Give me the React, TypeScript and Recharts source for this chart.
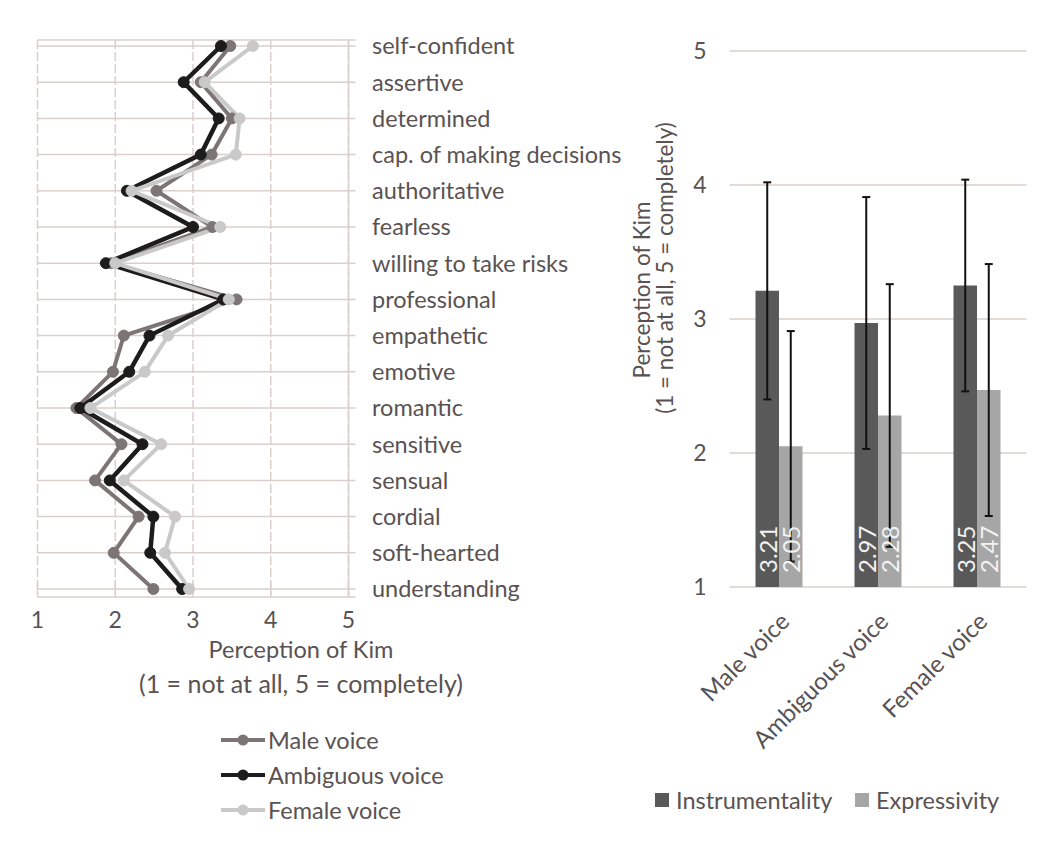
import React from "react";
import {
  Bar,
  BarChart,
  CartesianGrid,
  ErrorBar,
  LabelList,
  Legend,
  Line,
  LineChart,
  XAxis,
  YAxis,
} from "recharts";

// left panel: mean rating per trait, one line per voice condition
const traits = [
  "self-confident",
  "assertive",
  "determined",
  "cap. of making decisions",
  "authoritative",
  "fearless",
  "willing to take risks",
  "professional",
  "empathetic",
  "emotive",
  "romantic",
  "sensitive",
  "sensual",
  "cordial",
  "soft-hearted",
  "understanding",
];
const maleVoice = [3.48, 3.1, 3.5, 3.24, 2.53, 3.25, 1.95, 3.56, 2.11, 1.97, 1.5, 2.08, 1.74, 2.3, 1.98, 2.49];
const ambiguousVoice = [3.36, 2.88, 3.33, 3.1, 2.15, 3.0, 1.88, 3.39, 2.44, 2.18, 1.55, 2.35, 1.93, 2.49, 2.45, 2.86];
const femaleVoice = [3.77, 3.15, 3.6, 3.55, 2.21, 3.35, 2.0, 3.46, 2.68, 2.38, 1.68, 2.59, 2.11, 2.77, 2.64, 2.95];
const scaleTicks = [1, 2, 3, 4, 5];
const voiceNames = ["Male voice", "Ambiguous voice", "Female voice"];

// right panel: scale means with SD error bars
const voiceGroups = ["Male voice", "Ambiguous voice", "Female voice"];
const scaleNames = ["Instrumentality", "Expressivity"];
const instrumentality = [3.21, 2.97, 3.25];
const instrumentalitySd = [0.81, 0.94, 0.79];
const expressivity = [2.05, 2.28, 2.47];
const expressivitySd = [0.86, 0.98, 0.94];

const FONT = "Lato, 'Open Sans', sans-serif";
const TEXT = "#5a5252";
const GRID = "#d9d0cd";
const MALE = "#7d7575";
const AMBIG = "#1c1c1c";
const FEMALE = "#c9c9c9";

const traitRows = traits.map((trait, i) => ({
  trait,
  male: maleVoice[i],
  ambiguous: ambiguousVoice[i],
  female: femaleVoice[i],
}));

const groupRows = voiceGroups.map((group, i) => ({
  group,
  instr: instrumentality[i],
  instrSd: instrumentalitySd[i],
  expr: expressivity[i],
  exprSd: expressivitySd[i],
}));

// recharts sorts legend items by name; put them back in series order
const inOrder = (payload: any[] | undefined, names: string[]) =>
  [...(payload || [])].sort((a, b) => names.indexOf(a.value) - names.indexOf(b.value));

function VoiceLegend({ payload }: any) {
  return (
    <div>
      {inOrder(payload, voiceNames).map((item: any) => (
        <div key={item.value} style={{ display: "flex", alignItems: "center", height: 35 }}>
          <svg width={46} height={14}>
            <line x1={1} y1={7} x2={45} y2={7} stroke={item.color} strokeWidth={4} />
            <circle cx={23} cy={7} r={5.5} fill={item.color} />
          </svg>
          <span style={{ fontSize: 23.5, color: TEXT, marginLeft: 2 }}>{item.value}</span>
        </div>
      ))}
    </div>
  );
}

function ScaleLegend({ payload }: any) {
  return (
    <div style={{ display: "flex" }}>
      {inOrder(payload, scaleNames).map((item: any) => (
        <div key={item.value} style={{ display: "flex", alignItems: "center", width: 208, height: 28 }}>
          <div style={{ width: 14, height: 14, background: item.color }} />
          <span style={{ fontSize: 23.5, color: TEXT, marginLeft: 7 }}>{item.value}</span>
        </div>
      ))}
    </div>
  );
}

const VoiceTick = ({ x, y, payload }: any) => {
  const ax = x + 12;
  const ay = y + 36;
  return (
    <text x={ax} y={ay} transform={`rotate(-45 ${ax} ${ay})`} textAnchor="end" fill={TEXT} fontSize={24}>
      {payload.value}
    </text>
  );
};

const barValue = (props: any) => {
  const { x, y, width, height, value } = props;
  const cx = x + width / 2;
  const by = y + height - 14;
  return (
    <text
      x={cx}
      y={by}
      transform={`rotate(-90 ${cx} ${by})`}
      textAnchor="start"
      dominantBaseline="central"
      fill="#f2f2f2"
      fontSize={24}
    >
      {Number(value).toFixed(2)}
    </text>
  );
};

export default function App() {
  return (
    <div style={{ position: "absolute", left: 0, top: 0, width: 1044, height: 844, background: "#fff", fontFamily: FONT }}>
      <div style={{ position: "absolute", left: 0, top: 0 }}>
        <LineChart
          width={625}
          height={844}
          data={traitRows}
          layout="vertical"
          margin={{ top: 40, right: 0, bottom: 217, left: 37.5 }}
        >
          <CartesianGrid
            horizontal={(p: any) => (
              <line key={p.key} x1={p.x1} y1={p.y1} x2={p.x2 + 7} y2={p.y2} stroke={GRID} strokeWidth={1.5} />
            )}
            vertical={(p: any) => (
              <g key={p.key}>
                <line x1={p.x1} y1={p.y1} x2={p.x2} y2={p.y2} stroke={GRID} strokeWidth={1.5} strokeDasharray="9 3" />
                <line x1={p.x1} y1={p.y2 - 14} x2={p.x2} y2={p.y2 - 3} stroke={GRID} strokeWidth={1.5} />
              </g>
            )}
          />
          <XAxis
            type="number"
            domain={[1, 5]}
            ticks={scaleTicks}
            axisLine={false}
            tickLine={false}
            tickSize={0}
            tickMargin={15}
            height={30}
            tick={{ fill: TEXT, fontSize: 23 }}
            label={{
              content: () => (
                <g fill={TEXT} textAnchor="middle">
                  <text x={301} y={658} fontSize={23.5}>Perception of Kim</text>
                  <text x={301} y={693} fontSize={25}>(1 = not at all, 5 = completely)</text>
                </g>
              ),
            }}
          />
          <YAxis
            type="category"
            dataKey="trait"
            orientation="right"
            width={276.5}
            interval={0}
            padding={{ top: 6, bottom: 8 }}
            axisLine={{ stroke: GRID, strokeWidth: 1.5 }}
            tickLine={false}
            tickSize={0}
            tickMargin={23.5}
            tick={{ fill: TEXT, fontSize: 23.5 }}
          />
          <Legend
            layout="vertical"
            align="center"
            verticalAlign="middle"
            wrapperStyle={{ position: "absolute", left: 220, top: 722, width: 240 }}
            content={<VoiceLegend />}
          />
          <Line
            dataKey="male"
            name="Male voice"
            stroke={MALE}
            strokeWidth={4}
            dot={{ r: 5.5, fill: MALE, stroke: MALE, strokeWidth: 1 }}
            isAnimationActive={false}
          />
          <Line
            dataKey="ambiguous"
            name="Ambiguous voice"
            stroke={AMBIG}
            strokeWidth={4.5}
            dot={{ r: 5.5, fill: AMBIG, stroke: AMBIG, strokeWidth: 1 }}
            isAnimationActive={false}
          />
          <Line
            dataKey="female"
            name="Female voice"
            stroke={FEMALE}
            strokeWidth={4}
            dot={{ r: 5.5, fill: FEMALE, stroke: FEMALE, strokeWidth: 1 }}
            isAnimationActive={false}
          />
        </LineChart>
      </div>

      <div style={{ position: "absolute", left: 625, top: 0 }}>
        <BarChart
          width={419}
          height={844}
          data={groupRows}
          margin={{ top: 51, right: 17.5, bottom: 137, left: 44.5 }}
          barGap={0}
          barSize={23.5}
        >
          <CartesianGrid vertical={false} stroke={GRID} strokeWidth={1.5} />
          <XAxis
            dataKey="group"
            axisLine={false}
            tickLine={false}
            tickSize={0}
            tickMargin={0}
            height={120}
            interval={0}
            tick={<VoiceTick />}
          />
          <YAxis
            domain={[1, 5]}
            ticks={scaleTicks}
            axisLine={false}
            tickLine={false}
            tickSize={0}
            tickMargin={23}
            width={60}
            tick={{ fill: TEXT, fontSize: 23 }}
            label={{
              content: () => (
                <g fill={TEXT} fontSize={22.5} textAnchor="middle" dominantBaseline="central">
                  <text x={16} y={290} transform="rotate(-90 16 290)">Perception of Kim</text>
                  <text x={39} y={268} transform="rotate(-90 39 268)">(1 = not at all, 5 = completely)</text>
                </g>
              ),
            }}
          />
          <Legend
            layout="vertical"
            align="center"
            verticalAlign="middle"
            wrapperStyle={{ position: "absolute", left: 30, top: 786, width: 400 }}
            content={<ScaleLegend />}
          />
          <Bar dataKey="instr" name="Instrumentality" fill="#595959" isAnimationActive={false}>
            <ErrorBar dataKey="instrSd" width={4} stroke="#111" strokeWidth={2} />
            <LabelList dataKey="instr" content={barValue} />
          </Bar>
          <Bar dataKey="expr" name="Expressivity" fill="#a6a6a6" isAnimationActive={false}>
            <ErrorBar dataKey="exprSd" width={4} stroke="#111" strokeWidth={2} />
            <LabelList dataKey="expr" content={barValue} />
          </Bar>
        </BarChart>
      </div>
    </div>
  );
}
